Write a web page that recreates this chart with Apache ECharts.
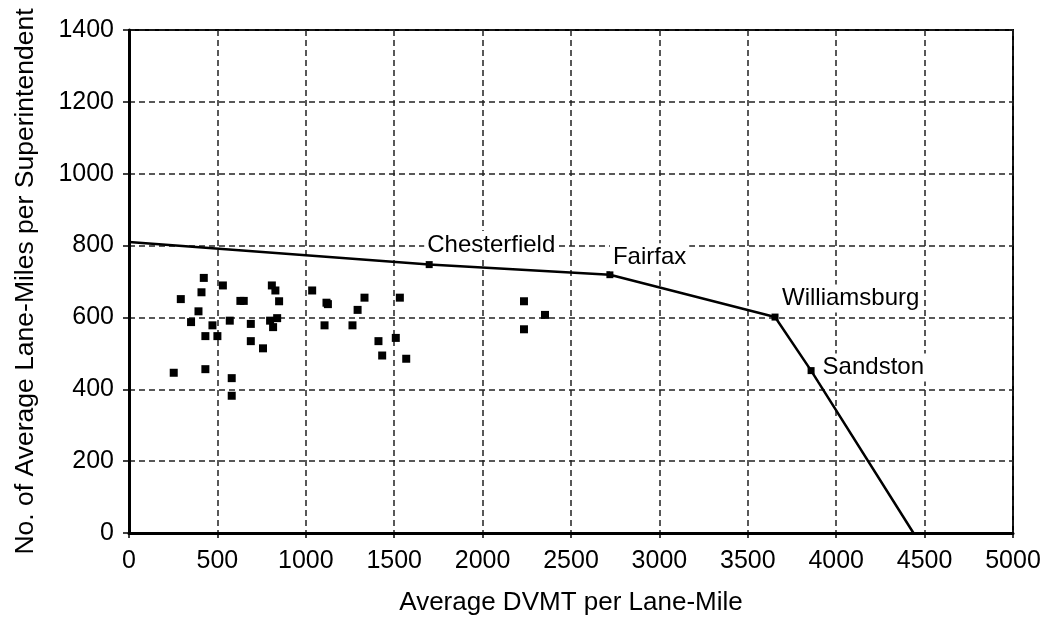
<!DOCTYPE html>
<html>
<head>
<meta charset="utf-8">
<script src="https://cdn.jsdelivr.net/npm/echarts@6/dist/echarts.min.js"></script>
<style>
  html, body { margin: 0; padding: 0; background: #fff; }
  #chart { width: 1049px; height: 617px; }
</style>
</head>
<body>
<div id="chart"></div>
<script>
// districts: average DVMT per lane-mile vs lane-miles per superintendent
var districtX = [423, 531, 410, 293, 393, 351, 472, 432, 500, 570,
    253, 432, 581, 581, 630, 649, 689, 689, 758, 808,
    828, 849, 798, 838, 815, 1036, 1117, 1125, 1106, 1264,
    1293, 1332, 1411, 1432, 1509, 1532, 1568, 2234, 2353, 2234];
var districtY = [710, 689, 670, 651, 617, 587, 578, 548, 548, 591,
    446, 456, 431, 382, 646, 646, 582, 534, 514, 689,
    675, 645, 591, 598, 573, 675, 641, 637, 578, 578,
    621, 655, 534, 494, 543, 655, 485, 645, 607, 567];

// frontier line
var frontierX = [0, 1698, 2720, 3654, 3858, 4437];
var frontierY = [810, 747, 719, 601, 452, 0];
var frontierNames = ['', 'Chesterfield', 'Fairfax', 'Williamsburg', 'Sandston', ''];

var font = "'Liberation Sans', Arial, sans-serif";

// where each frontier label sits
var labelPos = {
    'Chesterfield': { position: 'top', align: 'left', distance: 2, offset: [-5, 0] },
    'Fairfax': { position: 'top', align: 'left', distance: 1, offset: [0, 1] },
    'Williamsburg': { position: 'top', align: 'left', distance: 1, offset: [4, 0] },
    'Sandston': { position: 'right', distance: 5, offset: [0, -3] }
};

var scatterData = [];
for (var i = 0; i < districtX.length; i++) {
    scatterData.push([districtX[i], districtY[i]]);
}

var lineData = [];
for (var i = 0; i < frontierX.length; i++) {
    var name = frontierNames[i];
    var item = { value: [frontierX[i], frontierY[i]], name: name };
    if (!name) {
        item.symbol = 'none';
        item.label = { show: false };
    } else {
        var p = labelPos[name];
        item.label = {
            show: true,
            formatter: name,
            position: p.position,
            distance: p.distance,
            offset: p.offset,
            color: '#000',
            fontSize: 24,
            fontFamily: font,
            backgroundColor: '#fff',
            padding: [2, 3]
        };
        if (p.align) item.label.align = p.align;
    }
    lineData.push(item);
}

var gridLine = { show: true, lineStyle: { color: '#222', width: 1.5, type: [6, 4] } };

// plain numbers, no thousands separator
function plain(v) {
    return String(v);
}

var option = {
    backgroundColor: '#fff',
    animation: false,
    grid: {
        left: 129, right: 36, top: 30, bottom: 84,
        containLabel: false,
        outerBoundsMode: 'none',
        show: true, borderColor: '#000', borderWidth: 2
    },
    xAxis: {
        type: 'value',
        min: 0, max: 5000, interval: 500,
        name: 'Average DVMT per Lane-Mile',
        nameLocation: 'middle',
        nameGap: 57,
        nameTextStyle: { fontSize: 26, fontFamily: font, color: '#000' },
        axisLine: { show: true, lineStyle: { color: '#000', width: 3 } },
        axisTick: { show: true, length: 5, lineStyle: { color: '#000', width: 1.5 } },
        axisLabel: { fontSize: 25, fontFamily: font, color: '#000', margin: 16, formatter: plain },
        splitLine: gridLine
    },
    yAxis: {
        type: 'value',
        min: 0, max: 1400, interval: 200,
        name: 'No. of Average Lane-Miles per Superintendent',
        nameLocation: 'middle',
        nameGap: 90,
        nameTextStyle: { fontSize: 26.5, fontFamily: font, color: '#000' },
        axisLine: { show: true, lineStyle: { color: '#000', width: 3 } },
        axisTick: { show: true, length: 6, lineStyle: { color: '#000', width: 1.5 } },
        axisLabel: { fontSize: 25, fontFamily: font, color: '#000', margin: 15, formatter: plain },
        splitLine: gridLine
    },
    series: [{
        type: 'scatter',
        data: scatterData,
        symbol: 'rect',
        symbolSize: 8,
        itemStyle: { color: '#000', opacity: 1 },
        z: 3
    }, {
        type: 'line',
        data: lineData,
        symbol: 'rect',
        symbolSize: 7,
        showAllSymbol: true,
        lineStyle: { color: '#000', width: 2.5 },
        itemStyle: { color: '#000' },
        z: 4
    }]
};

var chart = echarts.init(document.getElementById('chart'));
chart.setOption(option);
</script>
</body>
</html>
